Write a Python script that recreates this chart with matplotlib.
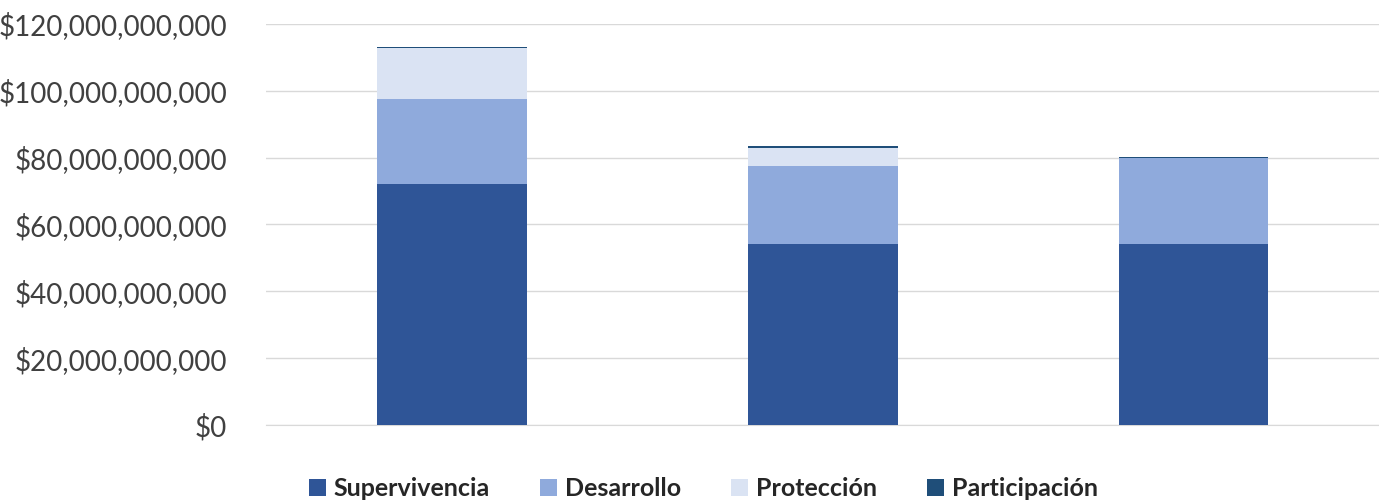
import matplotlib.pyplot as plt
from matplotlib.ticker import FuncFormatter

plt.rcParams['font.family'] = ['Lato', 'DejaVu Sans']

categories = ['', '', '']
supervivencia = [72.1e9, 54.2e9, 54.2e9]
desarrollo = [25.6e9, 23.4e9, 25.7e9]
proteccion = [15.0e9, 5.4e9, 0.1e9]
participacion = [0.4e9, 0.4e9, 0.2e9]

series = [
    ('Supervivencia', supervivencia, '#2F5597'),
    ('Desarrollo', desarrollo, '#8FAADC'),
    ('Protección', proteccion, '#DAE3F3'),
    ('Participación', participacion, '#1F4E79'),
]

fig = plt.figure(figsize=(13.79, 5), dpi=100)
ax = fig.add_axes([0.193, 0.15, 0.807, 0.802])

x = list(range(len(categories)))
bottom = [0.0] * len(categories)
for name, vals, color in series:
    ax.bar(x, vals, bottom=bottom, width=0.404, color=color, label=name, zorder=3)
    bottom = [b + v for b, v in zip(bottom, vals)]

ax.set_xlim(-0.5, 2.5)
ax.set_ylim(0, 120e9)
ax.set_yticks([i * 20e9 for i in range(7)])
ax.yaxis.set_major_formatter(FuncFormatter(lambda v, p: '${:,.0f}'.format(v)))
ax.set_xticks(x)
ax.set_xticklabels(categories)
ax.tick_params(axis='y', length=0, labelsize=20, labelcolor='#404040', pad=28)
ax.tick_params(axis='x', length=0)
ax.grid(axis='y', color='#D9D9D9', linewidth=1, zorder=0)
for s in ax.spines.values():
    s.set_visible(False)
ax.spines['bottom'].set_visible(True)
ax.spines['bottom'].set_color('#D9D9D9')

leg = fig.legend(loc='lower center', bbox_to_anchor=(0.51, -0.045), ncol=4, frameon=False,
                 prop={'size': 18, 'weight': 'bold'}, handlelength=0.7, handleheight=0.7,
                 handletextpad=0.3, columnspacing=2.0)
for t in leg.get_texts():
    t.set_color('#262626')

fig.savefig('out.png', dpi=100)
